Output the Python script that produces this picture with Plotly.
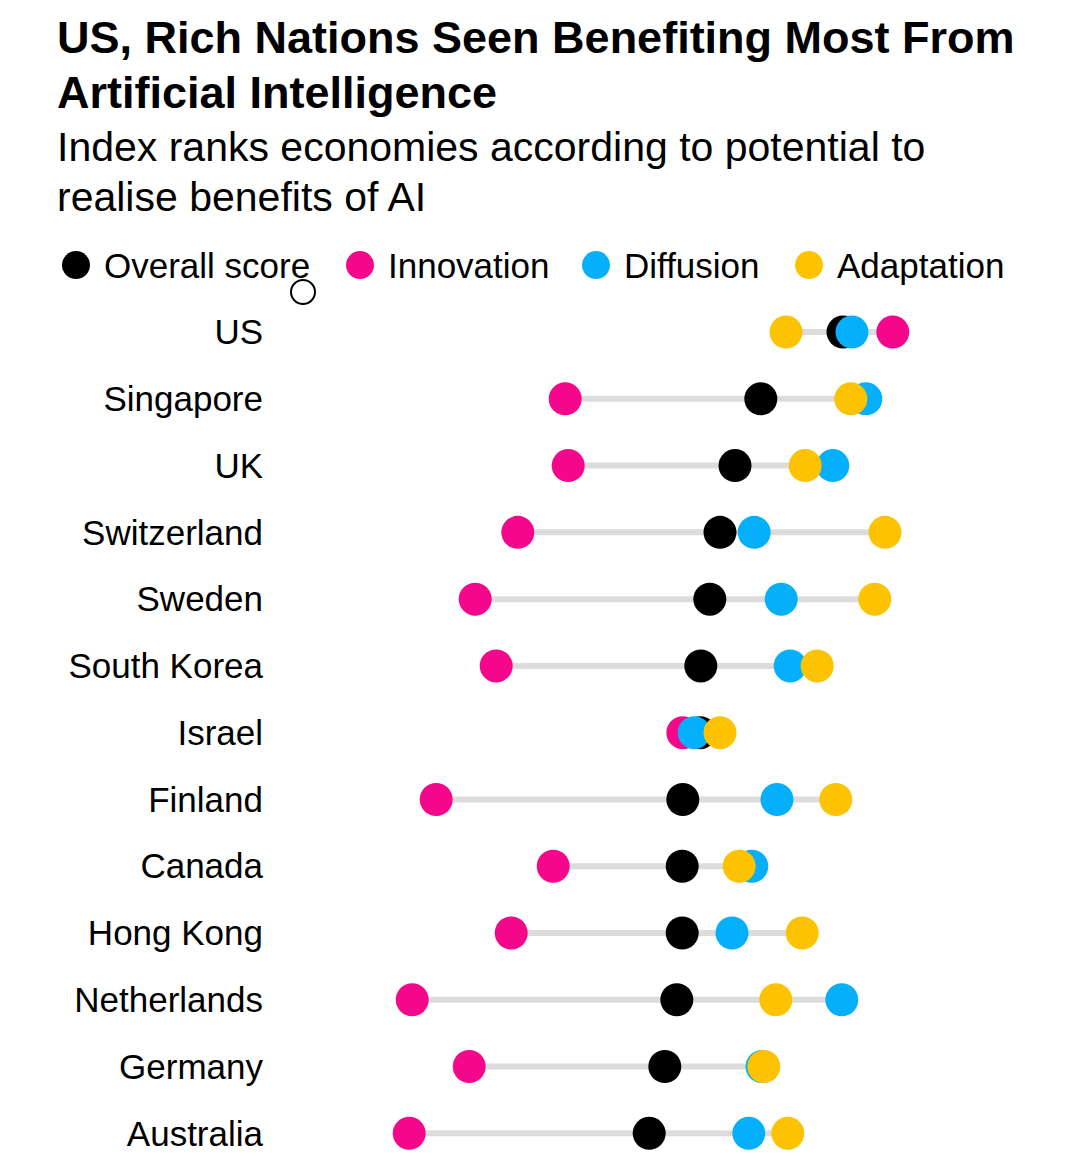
import plotly.graph_objects as go

# Countries, top to bottom
countries = ["US", "Singapore", "UK", "Switzerland", "Sweden", "South Korea", "Israel",
             "Finland", "Canada", "Hong Kong", "Netherlands", "Germany", "Australia"]

# Scores
overall = [90.5, 76.8, 72.5, 70.0, 68.3, 66.8, 66.7, 63.8, 63.7, 63.7, 62.8, 60.8, 58.2]
innovation = [98.8, 44.2, 44.7, 36.3, 29.2, 32.7, 63.8, 22.7, 42.2, 35.2, 18.7, 28.2, 18.2]
diffusion = [92.0, 94.3, 88.8, 75.7, 80.2, 81.7, 65.7, 79.5, 75.3, 72.0, 90.3, 77.0, 74.8]
adaptation = [81.0, 91.8, 84.2, 97.5, 95.8, 86.2, 70.0, 89.3, 73.2, 83.7, 79.3, 77.3, 81.3]

series_names = ["Overall score", "Innovation", "Diffusion", "Adaptation"]
series_values = [overall, innovation, diffusion, adaptation]
series_colors = ["#000000", "#f5078c", "#05affa", "#fdc300"]

# page body has an 8px margin, so the figure is drawn 8px in from the corner
OFF = 8
W, H = 1079 - OFF, 1158 - OFF
L, R, T, B = 260, 30, 284, 5
FONT = "Liberation Sans"


def px_x(px):
    # page pixel -> paper x
    return (px - OFF - L) / (W - L - R)


def px_y(py):
    # page pixel -> paper y
    return (H - B - (py - OFF)) / (H - T - B)


rows = list(range(len(countries)))

fig = go.Figure()

# grey range line behind each row
lx, ly = [], []
for i in rows:
    vals = [s[i] for s in series_values]
    lx += [min(vals), max(vals), None]
    ly += [i, i, None]
fig.add_trace(go.Scatter(x=lx, y=ly, mode="lines", line=dict(color="#dcdcdc", width=6),
                         hoverinfo="skip", showlegend=False))

for name, vals, col in zip(series_names, series_values, series_colors):
    fig.add_trace(go.Scatter(x=vals, y=rows, mode="markers", name=name,
                             marker=dict(size=33, color=col, line=dict(width=0)),
                             cliponaxis=False, showlegend=False))

# custom legend (plotly caps legend marker size)
legend_dots = [76, 360, 596, 809]
shapes = []
annotations = []
for name, col, dx in zip(series_names, series_colors, legend_dots):
    shapes.append(dict(type="circle", xref="paper", yref="paper", xsizemode="pixel", ysizemode="pixel",
                       xanchor=px_x(dx), yanchor=px_y(265), x0=-14, x1=14, y0=-14, y1=14,
                       fillcolor=col, line=dict(width=0)))
    annotations.append(dict(text=name, xref="paper", yref="paper", x=px_x(dx + 26), y=px_y(265),
                            xanchor="left", yanchor="middle", showarrow=False,
                            font=dict(family=FONT, size=35, color="#000000")))

# small outlined circle under the legend
shapes.append(dict(type="circle", xref="paper", yref="paper", xsizemode="pixel", ysizemode="pixel",
                   xanchor=px_x(303), yanchor=px_y(292), x0=-12, x1=12, y0=-12, y1=12,
                   fillcolor="rgba(0,0,0,0)", line=dict(width=2, color="#000000")))

title_lines = [("US, Rich Nations Seen Benefiting Most From", 37),
               ("Artificial Intelligence", 92)]
for txt, py in title_lines:
    annotations.append(dict(text="<b>%s</b>" % txt, xref="paper", yref="paper", x=px_x(55), y=px_y(py),
                            xanchor="left", yanchor="middle", showarrow=False,
                            font=dict(family=FONT, size=45, color="#000000")))

subtitle_lines = [("Index ranks economies according to potential to", 146),
                  ("realise benefits of AI", 197)]
for txt, py in subtitle_lines:
    annotations.append(dict(text=txt, xref="paper", yref="paper", x=px_x(55), y=px_y(py),
                            xanchor="left", yanchor="middle", showarrow=False,
                            font=dict(family=FONT, size=41, color="#000000")))

fig.update_layout(
    width=W, height=H,
    margin=dict(l=L, r=R, t=T, b=B),
    paper_bgcolor="white", plot_bgcolor="white",
    shapes=shapes, annotations=annotations,
    showlegend=False,
)
fig.update_xaxes(range=[(L + OFF - 300) / 6, (W - R + OFF - 300) / 6], visible=False)
fig.update_yaxes(range=[12.25, -0.6], tickvals=rows, ticktext=countries, showgrid=False,
                 zeroline=False, showline=False, ticks="", ticklabelstandoff=4,
                 tickfont=dict(family=FONT, size=35, color="#000000"))

fig.write_html("out.html")
